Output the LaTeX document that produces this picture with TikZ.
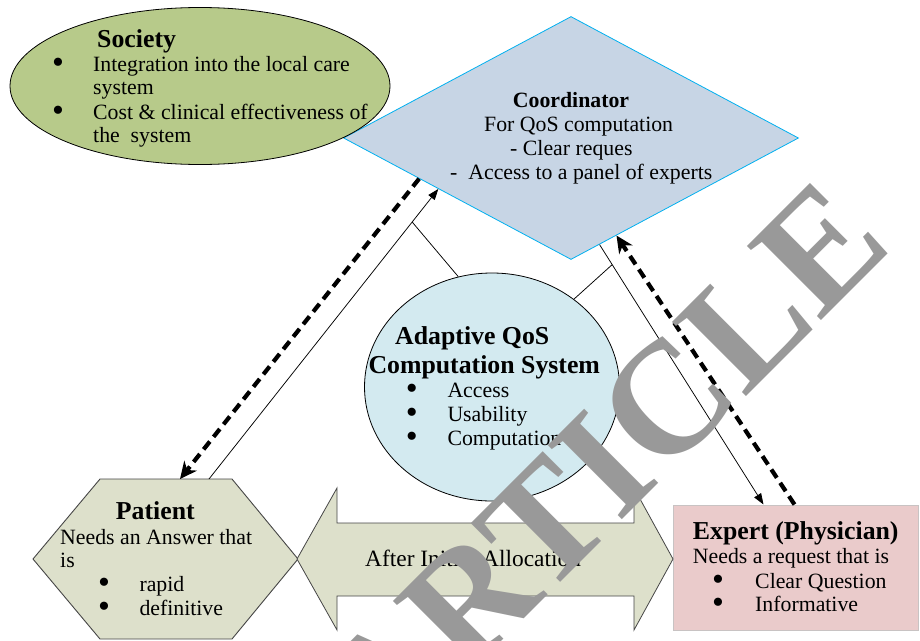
\documentclass[tikz,border=0pt]{standalone}
\usepackage{fontspec}
\setmainfont{Liberation Serif}
\usetikzlibrary{shapes.geometric,arrows.meta,calc}

\definecolor{societyfill}{RGB}{183,202,138}
\definecolor{coordfill}{RGB}{199,213,229}
\definecolor{coordline}{RGB}{0,176,240}
\definecolor{systemfill}{RGB}{211,234,240}
\definecolor{patientfill}{RGB}{221,224,203}
\definecolor{patientline}{RGB}{70,70,70}
\definecolor{expertfill}{RGB}{234,203,203}
\definecolor{expertline}{RGB}{200,195,195}
\definecolor{markgray}{RGB}{153,153,153}

\tikzset{
  body/.style={font=\fontsize{21.8}{24}\selectfont, inner sep=0pt, anchor=base west},
  bodybold/.style={font=\bfseries\fontsize{21.8}{24}\selectfont, inner sep=0pt, anchor=base west},
  title/.style={font=\bfseries\fontsize{25.8}{28}\selectfont, inner sep=0pt, anchor=base west},
  bulletmark/.style={font=\fontsize{34}{34}\selectfont, inner sep=0pt, anchor=center},
  link/.style={draw=black, line width=0.75pt},
  thinarrow/.style={link, -{Triangle[length=11pt,width=8pt]}},
  dasharrow/.style={draw=black, line width=4.2pt, dash pattern=on 10pt off 6pt,
    -{Stealth[length=17pt,width=16pt]}},
}

\begin{document}
\begin{tikzpicture}[x=1pt,y=-1pt]
\useasboundingbox (0,0) rectangle (920,640);
\fill[white] (0,0) rectangle (920,640);

% main shapes
\node[diamond, draw=coordline, fill=coordfill, line width=0.8pt,
      minimum width=455pt, minimum height=243pt, inner sep=0pt] (coord) at (571,138) {};
\node[ellipse, draw=black, fill=societyfill, line width=0.8pt,
      minimum width=380pt, minimum height=157pt, inner sep=0pt] (society) at (200,86) {};
\node[ellipse, draw=black, fill=systemfill, line width=0.8pt,
      minimum width=255pt, minimum height=228pt, inner sep=0pt] (system) at (492,387) {};
\node[rectangle, draw=expertline, fill=expertfill, line width=1pt,
      minimum width=245pt, minimum height=125pt, inner sep=0pt] (expert) at (795.5,567.5) {};

% patient hexagon
\filldraw[draw=patientline, fill=patientfill, line width=0.9pt]
  (33,559) -- (100,479) -- (232,479) -- (298,559) -- (232,639) -- (100,639) -- cycle;
\coordinate (patientIn) at (180,479);
\coordinate (patientOut) at (209,479);

% allocation double arrow
\filldraw[draw=patientline, fill=patientfill, line width=0.8pt]
  (297,559) -- (337,488) -- (337,523) -- (634,523) -- (634,488) -- (673,559)
  -- (634,630) -- (634,596) -- (337,596) -- (337,630) -- cycle;

\coordinate (expertIn) at ($(expert.north west)+(91,0)$);
\coordinate (expertOut) at ($(expert.north west)+(122,0)$);

% connectors
\draw[dasharrow] (coord.-165.3) -- (patientIn);
\draw[thinarrow] (patientOut) -- (coord.-159.2);
\draw[link] ($(patientOut)!0.886!(coord.-159.2)$) -- (system.107);
\draw[thinarrow] (coord.-75.3) -- (expertIn);
\draw[link] (system.47.3) -- ($(coord.-75.3)!0.077!(expertIn)$);
\draw[dasharrow] (expertOut) -- (coord.-65.8);

% society
\node[title] (socT) at (97,47) {Society};
\node[bulletmark] (socB1) at (58,65.5) {•};
\node[body] (socL1) at (93,71) {Integration into the local care};
\node[body] (socL2) at (93,94) {system};
\node[bulletmark] (socB2) at (58,113.5) {•};
\node[body] (socL3) at (93,119) {Cost \& clinical effectiveness of};
\node[body] (socL4) at (93,142) {the\ \ system};

% coordinator
\node[bodybold] (coT) at (512.7,107.7) {Coordinator};
\node[body] (coL1) at (484,131.7) {For QoS computation};
\node[body] (coL2) at (510,155.7) {- Clear reques};
\node[body] (coL3) at (450,179) {-\ \ Access to a panel of experts};

% adaptive system
\node[title] (syT1) at (395,344.3) {Adaptive QoS};
\node[title] (syT2) at (368.3,373) {Computation System};
\node[bulletmark] (syB1) at (411.7,392.2) {•};
\node[body] (syL1) at (447.3,397.7) {Access};
\node[bulletmark] (syB2) at (411.7,416.2) {•};
\node[body] (syL2) at (447.3,421.7) {Usability};
\node[bulletmark] (syB3) at (411.7,439.5) {•};
\node[body] (syL3) at (447.3,445) {Computation};

% patient
\node[title] (paT) at (115.7,519) {Patient};
\node[body] (paL1) at (60,544) {Needs an Answer that};
\node[body] (paL2) at (60,567) {is};
\node[bulletmark] (paB1) at (104,585.5) {•};
\node[body] (paL3) at (139.3,591) {rapid};
\node[bulletmark] (paB2) at (104,609.5) {•};
\node[body] (paL4) at (139.3,615) {definitive};

% allocation label
\node[body, font=\fontsize{23.4}{26}\selectfont] (alloc) at (365,566.7) {After Initial Allocation};

% expert
\node[title] (exT) at (692.7,539.3) {Expert (Physician)};
\node[body] (exL1) at (692.7,563.3) {Needs a request that is};
\node[bulletmark] (exB1) at (718,582.8) {•};
\node[body] (exL2) at (755,588.3) {Clear Question};
\node[bulletmark] (exB2) at (718,606.2) {•};
\node[body] (exL3) at (755,611.7) {Informative};

% stamp across the page
\node[font=\bfseries\fontsize{160}{160}\selectfont, text=markgray, rotate=45,
      anchor=base west, inner sep=0pt] (stamp) at (383.7,758.9) {ARTICLE};
\end{tikzpicture}
\end{document}
